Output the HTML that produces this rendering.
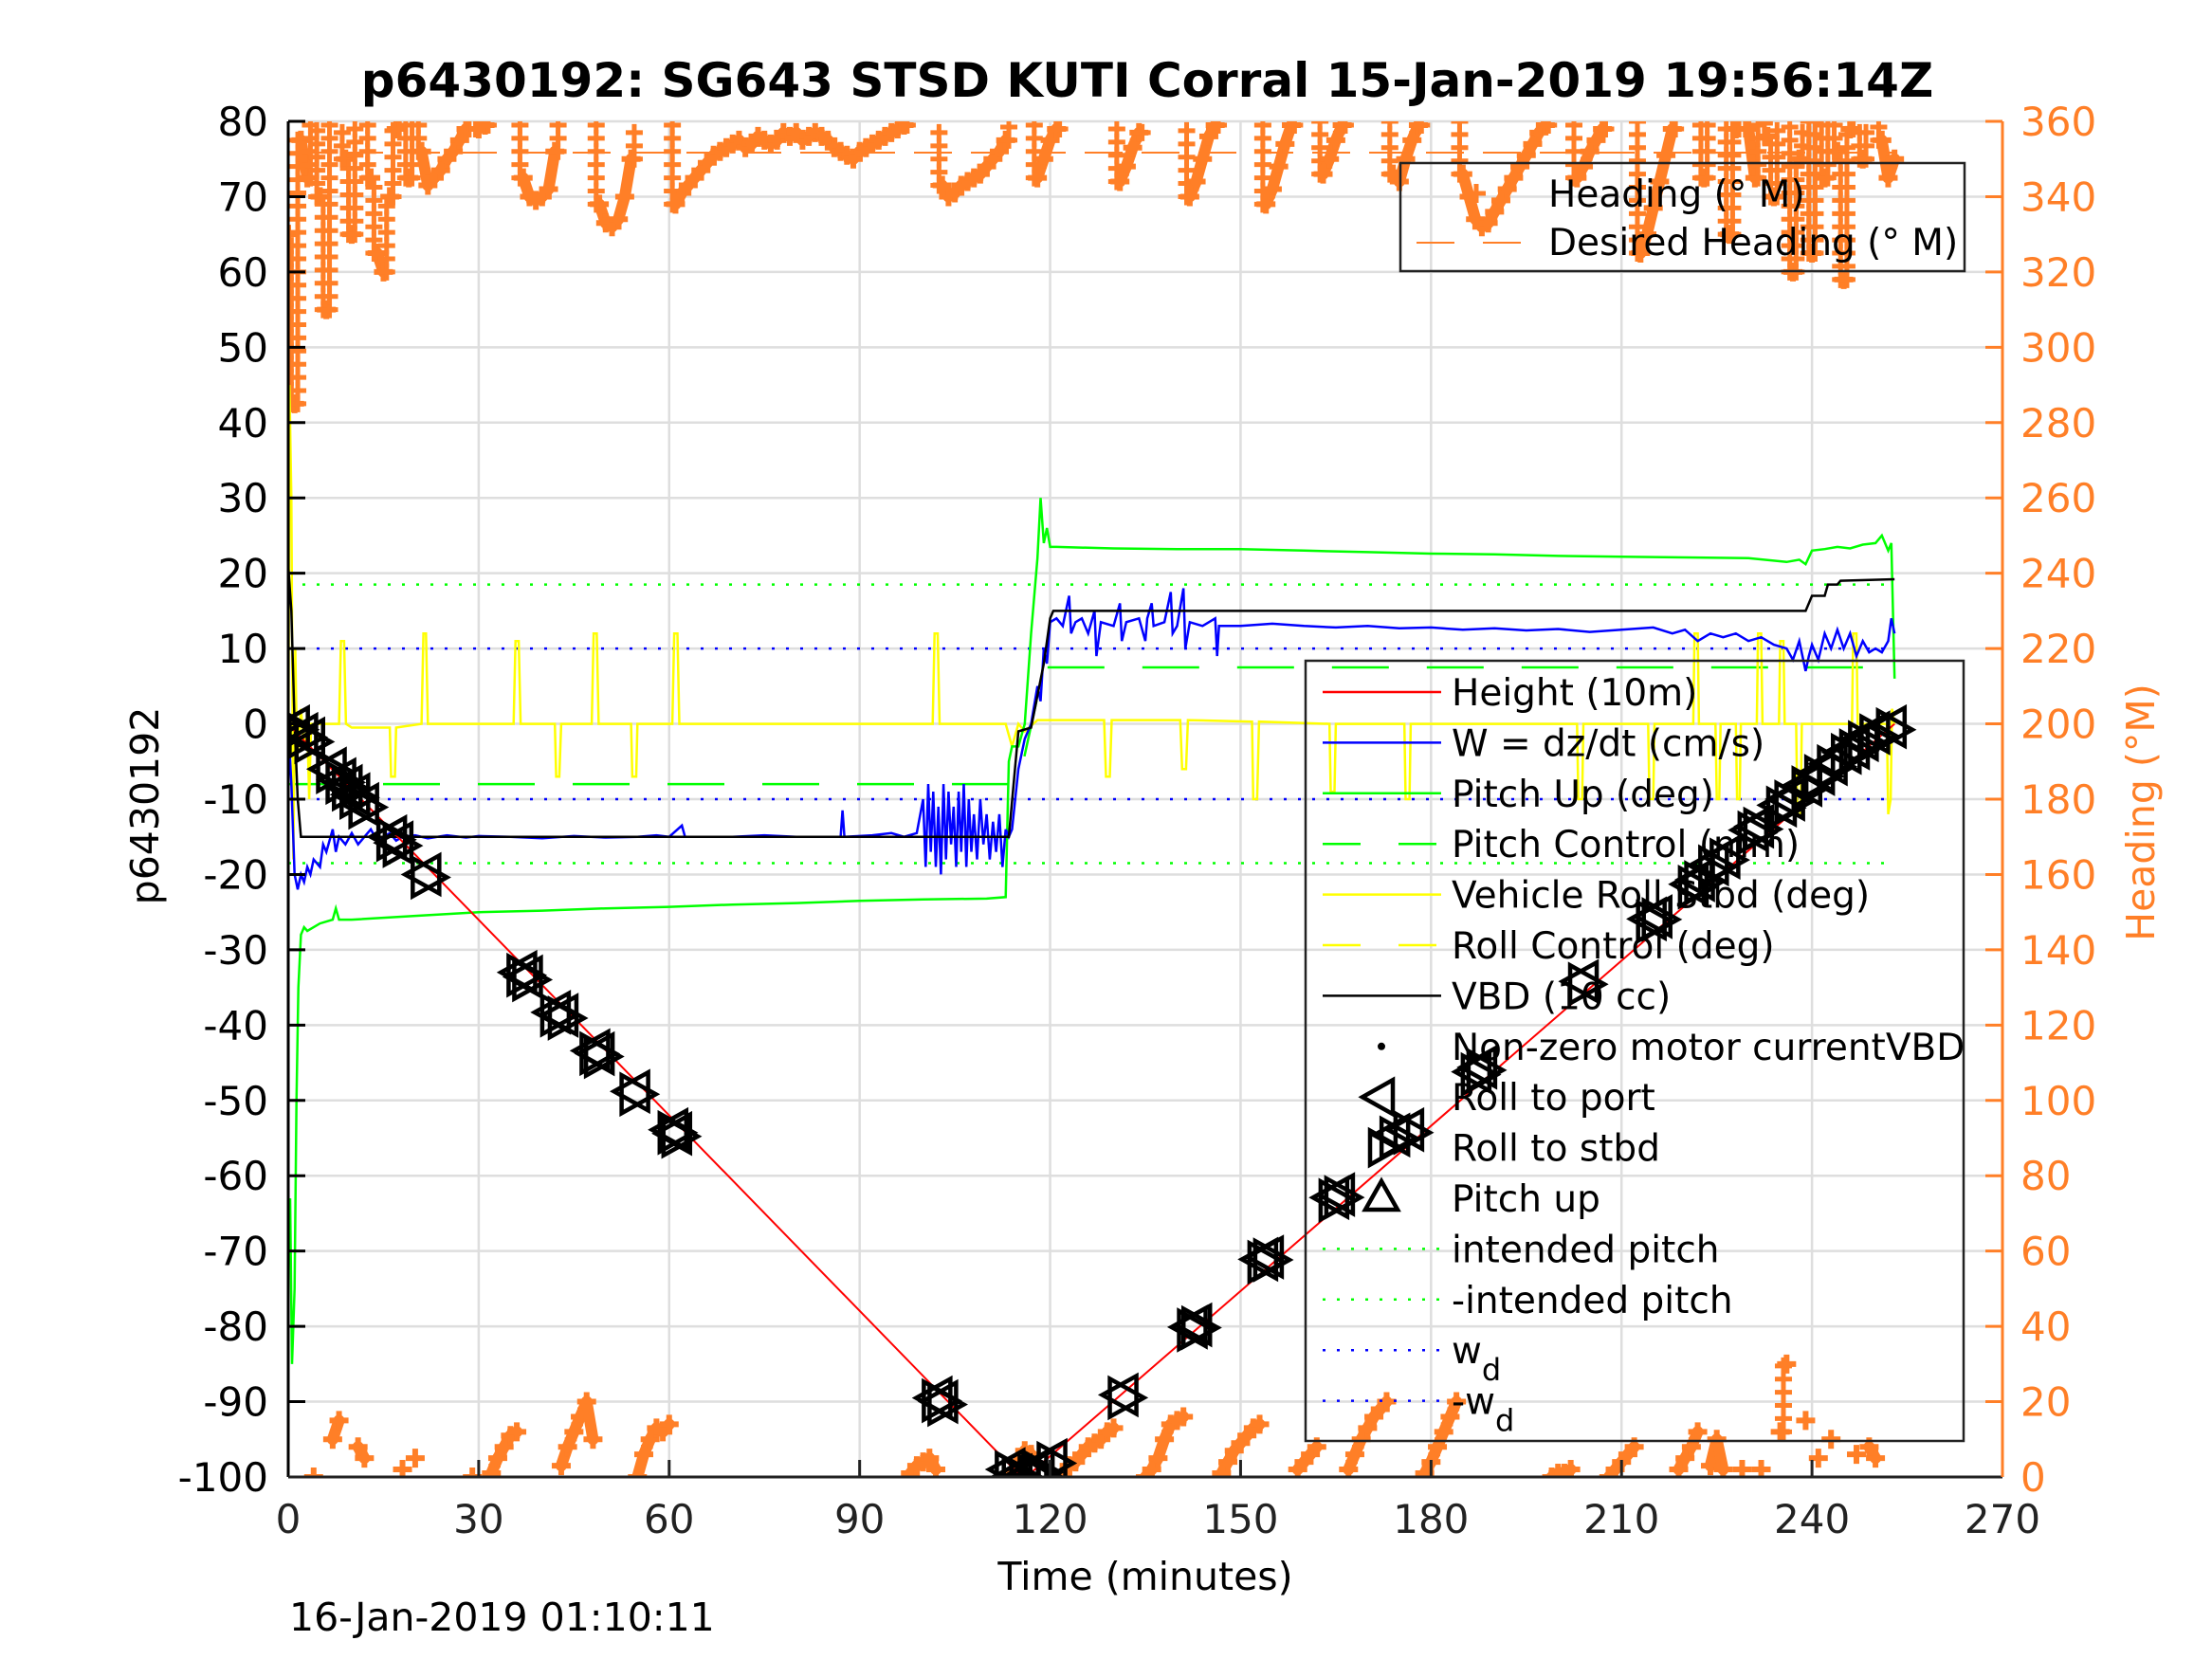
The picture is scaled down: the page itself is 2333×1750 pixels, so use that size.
<!DOCTYPE html>
<html><head><meta charset="utf-8"><style>
html,body{margin:0;padding:0;background:#fff;}
svg{display:block;font-family:"DejaVu Sans","Liberation Sans",sans-serif;}
</style></head><body>
<svg id="chart" width="2333" height="1750" viewBox="0 0 2333 1750" xmlns="http://www.w3.org/2000/svg">
<defs><clipPath id="pc"><rect x="304" y="128" width="1808" height="1430"/></clipPath></defs>
<rect width="2333" height="1750" fill="#fff"/>
<g id="grid"></g>
<g id="plot" clip-path="url(#pc)"></g>
<g id="axes"></g>
<text x="1210" y="102" text-anchor="middle" font-size="50" font-weight="bold">p6430192: SG643 STSD KUTI Corral 15-Jan-2019 19:56:14Z</text>
<text x="1208" y="1677" text-anchor="middle" font-size="41">Time (minutes)</text>
<text x="305" y="1720" font-size="41">16-Jan-2019 01:10:11</text>
<text transform="translate(167,850) rotate(-90)" text-anchor="middle" font-size="41">p6430192</text>
<text transform="translate(2272,857) rotate(-90)" text-anchor="middle" font-size="41" fill="#ff7f27">Heading (°M)</text>
<g id="legends"></g>
</svg>
<script>
// ---------- data ----------
const xTicks = [0,30,60,90,120,150,180,210,240,270];
const yTicksLeft = [80,70,60,50,40,30,20,10,0,-10,-20,-30,-40,-50,-60,-70,-80,-90,-100];
const yTicksRight = [360,340,320,300,280,260,240,220,200,180,160,140,120,100,80,60,40,20,0];
const heightPts = [[0,0],[0.5,-0.5],[115.5,-100],[116.5,-99.8],[253,0]];
const vbdPts = [[0,21],[0.5,15],[1,0],[1.5,-10],[2,-15],[113.5,-15],[115,-1],[117,-0.5],[119,8],[120,14],[120.5,15],[239,15],[239.5,16],[240,17],[242,17],[242.5,18.5],[244,18.5],[244.5,19],[253,19.2]];
const wPts = [[0,0],[0.5,-8],[1,-20],[1.5,-22],[2,-20],[2.5,-21],[3,-19],[3.5,-20],[4,-18],[5,-19],[5.5,-16],[6,-17],[7,-14],[7.5,-17],[8,-15],[9,-16],[10,-14.5],[11,-16],[12,-15],[13,-14],[14,-15.5],[15,-15],[16,-14.5],[17,-15.5],[18,-15],[20,-14.8],[22,-15.2],[25,-14.8],[28,-15.1],[30,-14.9],[35,-15],[40,-15.2],[45,-14.9],[50,-15.1],[55,-15],[58,-14.8],[60,-15],[62,-13.5],[62.5,-15],[70,-15],[75,-14.8],[80,-15],[85,-15],[87,-15],[87.3,-11.5],[87.6,-15],[92,-14.8],[95,-14.5],[97,-15],[99,-14.5],[100,-10],[100.4,-19],[100.8,-8],[101.2,-17],[101.6,-9],[102,-19],[102.4,-11],[102.8,-20],[103.2,-8],[103.6,-18],[104,-9],[104.4,-16],[104.8,-11],[105.2,-19],[105.6,-9],[106,-17],[106.4,-8],[106.8,-19],[107.2,-10],[107.6,-17],[108,-12],[108.5,-18],[109,-10],[109.5,-16],[110,-12],[110.5,-18],[111,-13],[111.5,-17],[112,-12],[112.5,-19],[113,-14],[113.5,-15],[114,-14],[115,-6],[116,-2],[117,0],[118,5],[118.5,3],[119,10],[119.5,8],[120,13.5],[121,14],[122,13],[123,17],[123.3,12],[124,13.5],[125,14],[126,12],[127,15],[127.3,9],[128,13.5],[130,13],[131,16],[131.3,11],[132,13.5],[134,14],[135,11],[135.3,14],[136,16],[136.3,13],[138,13.5],[139,17.5],[139.3,12],[140,13],[141,18],[141.3,10],[142,13.5],[144,13],[146,14],[146.3,9],[146.6,13],[150,13],[155,13.3],[160,13],[165,12.8],[170,13],[175,12.7],[180,12.8],[185,12.5],[190,12.7],[195,12.4],[200,12.6],[205,12.2],[210,12.5],[215,12.8],[218,12],[220,12.5],[222,11],[224,12],[226,11.5],[228,12],[230,11],[232,11.5],[234,10.5],[236,10],[237,8.5],[238,11],[239,7],[239.5,9],[240,10.5],[241,8.5],[242,12],[243,10],[244,12.5],[245,10],[246,12],[247,9],[248,11],[249,9.5],[250,10],[251,9.5],[252,11],[252.5,14],[253,12]];
const pitchPts = [[0,-70],[0.3,-63],[0.6,-85],[1,-75],[1.3,-50],[1.6,-35],[2,-28],[2.5,-27],[3,-27.5],[5,-26.5],[7,-26],[7.5,-24.5],[8,-26],[10,-26],[20,-25.5],[30,-25],[40,-24.8],[50,-24.5],[60,-24.3],[70,-24],[80,-23.8],[90,-23.5],[100,-23.3],[110,-23.2],[113,-23],[113.5,-5],[114,-3],[115,-3],[116,0],[117,12],[118,22],[118.5,30],[119,24],[119.5,26],[120,23.5],[121,23.5],[130,23.3],[140,23.2],[150,23.2],[160,23],[170,22.8],[180,22.6],[190,22.5],[200,22.3],[210,22.2],[220,22.1],[230,22],[236,21.5],[238,21.8],[239,21.2],[240,23],[242,23.2],[244,23.5],[246,23.3],[248,23.8],[250,24],[251,25],[252,23],[252.5,24],[253,6]];
const pitchCtrlPts = [[0,-8],[115,-8],[119,7.5],[253,7.5]];
const rollPts = [[0,-15],[0.2,45],[0.5,30],[0.8,-18],[1.1,10],[1.4,-5],[2,2],[2.5,-3],[3,0],[3.3,-10],[3.6,0],[5,0],[8,0],[8.3,11],[8.8,11],[9.1,0],[10,-0.5],[16,-0.5],[16.2,-7],[16.8,-7],[17,-0.5],[21,0],[21.3,12],[21.7,12],[22,0],[35.5,0],[35.8,11],[36.3,11],[36.6,0],[42,0],[42.2,-7],[42.7,-7],[43,0],[47.8,0],[48.1,12],[48.6,12],[48.9,0],[54,0],[54.2,-7],[54.8,-7],[55,0],[60.5,0],[60.8,12],[61.3,12],[61.6,0],[101.5,0],[101.8,12],[102.3,12],[102.6,0],[113,0],[114,-3],[115,0],[116,-1],[118,0.5],[128.5,0.5],[128.8,-7],[129.4,-7],[129.7,0.5],[140.5,0.5],[140.8,-6],[141.4,-6],[141.7,0.5],[151.8,0.3],[152,-10],[152.6,-10],[152.9,0.3],[164,0],[164.2,-9],[164.8,-9],[165,0],[175.8,0],[176,-10],[176.6,-10],[176.8,0],[203,0],[203.2,-10],[203.8,-10],[204,0],[214.2,0],[214.4,-10],[215,-10],[215.2,0],[221.3,0],[221.5,12],[222,12],[222.2,0],[224.8,0],[225,-10],[225.4,-10],[225.6,0],[228,0],[228.2,-10],[228.6,-10],[228.8,0],[231.3,0],[231.5,12],[232,12],[232.2,0],[234.8,0],[235,11],[235.5,11],[235.7,0],[237.5,0],[237.7,-12],[238.2,-12],[238.4,0],[246.3,0],[246.5,12],[247,12],[247.2,0],[251.8,0],[252,-12],[252.4,-10],[252.6,2],[253,0]];
const markerTimes = [0.7,2,3.1,6.5,8,9,10.2,11.6,16,17,21.4,36.5,37.4,41.8,43,48,48.7,54.3,60.3,60.9,101.9,102.8,113.4,114.5,115.7,117,118,120,131.2,142.1,142.8,153.2,154.1,164.4,165.3,174,176.2,186.8,187.7,203.7,214.4,215.3,221,222,224.2,226,230.4,231.3,234.9,236.2,238.9,240.9,242.9,245.1,246.4,247.8,249.6,252.2];
const markerDepths = [-0.4,-1.4,-2,-6,-7.4,-8.3,-9.4,-10.7,-15,-15.8,-20,-33,-33.6,-38.3,-38.7,-43.4,-43.8,-48.8,-53.9,-54.4,-89.5,-90,-99,-99.8,-100,-99.4,-99,-97.8,-89.1,-80.1,-79.8,-71.1,-70.8,-62.9,-62.5,-54.6,-53.9,-46.2,-45.6,-34.2,-25.9,-25.6,-21.3,-20.7,-18.6,-17.7,-14.1,-13.6,-10.8,-10,-8.1,-6.6,-5.3,-3.8,-3.2,-2.1,-1.2,-0.4];
// heading per minute (t = index), values above 360 wrap to the bottom
const headingVals = [330,285,355,345,360,340,310,370,375,350,
330,368,365,345,325,320,340,358,362,345,
365,352,343,345,347,350,352,355,358,360,
358,359,361,365,368,371,372,345,340,339,
340,342,352,363,368,372,376,380,370,338,
333,332,334,340,350,360,366,370,373,372,
374,338,341,343,345,347,349,351,352,353,
354,355,353,354,356,355,354,355,357,356,
357,355,356,357,356,355,353,352,351,350,
352,353,354,355,356,357,358,359,361,363,
364,365,362,343,340,341,343,344,345,346,
348,350,352,355,361,364,367,366,345,350,
355,358,361,363,364,366,368,369,370,372,
373,344,348,353,357,360,362,365,370,374,
375,376,340,344,350,356,359,361,364,367,
369,371,373,374,338,342,348,354,359,362,
364,366,368,346,350,355,359,362,366,370,
373,376,378,380,346,344,350,355,359,361,
364,368,372,376,380,346,340,334,332,333,
336,339,342,345,348,351,354,357,359,360,
361,361,362,345,348,352,355,358,360,362,
364,366,368,325,330,337,344,351,358,362,
365,368,372,345,363,370,362,330,358,362,
358,345,362,356,340,372,390,320,350,375,
325,365,345,370,352,318,358,366,350,368,
365,355,345,350];
const desiredHeading = 351.7;
const intendedPitch = 18.5;
const wd = 10;
const tEnd = 253;

// ---------- axes ----------
const X0=304,X1=2112,Y0=128,Y1=1558;
const X = t => X0 + (t-0)*(X1-X0)/270;
const YL = v => Y0 + (80-v)*(Y1-Y0)/180;
const YR = h => Y0 + (360-h)*(Y1-Y0)/360;
const NS="http://www.w3.org/2000/svg";
const OR="#ff7f27";
function mk(tag, attrs, parent){const e=document.createElementNS(NS,tag);for(const k in attrs)e.setAttribute(k,attrs[k]);parent.appendChild(e);return e;}
const grid=document.getElementById('grid'), plot=document.getElementById('plot'), axes=document.getElementById('axes'), leg=document.getElementById('legends');

xTicks.forEach(t=>{
  const g=mk('line',{x1:X(t),x2:X(t),y1:Y0,y2:Y1,stroke:'#dedede','stroke-width':2.5},grid);
  
  
  const tk=mk('line',{x1:X(t),x2:X(t),y1:Y1,y2:Y1-18,stroke:'#222','stroke-width':3},axes);
  
  
  const lb=mk('text',{x:X(t),y:1617,'text-anchor':'middle','font-size':42,fill:'#222'},axes);
  lb.textContent=t;
  
  
});
yTicksLeft.forEach(v=>{
  const g=mk('line',{x1:X0,x2:X1,y1:YL(v),y2:YL(v),stroke:'#dedede','stroke-width':2.5},grid);
  
  
  const tk=mk('line',{x1:X0,x2:X0+18,y1:YL(v),y2:YL(v),stroke:'#000','stroke-width':3},axes);
  
  
  const lb=mk('text',{x:283,y:YL(v)+15,'text-anchor':'end','font-size':42,fill:'#000'},axes);
  lb.textContent=v;
  
  
});
yTicksRight.forEach(h=>{
  const tk=mk('line',{x1:X1,x2:X1-18,y1:YR(h),y2:YR(h),stroke:OR,'stroke-width':3},axes);
  
  
  const lb=mk('text',{x:2131,y:YR(h)+15,'font-size':42,fill:OR},axes);
  lb.textContent=h;
  
  
});
const ax1=mk('line',{x1:X0,x2:X0,y1:Y0,y2:Y1,stroke:'#000','stroke-width':3},axes);


const ax2=mk('line',{x1:X0,x2:X1,y1:Y1,y2:Y1,stroke:'#222','stroke-width':3},axes);


const ax3=mk('line',{x1:X1,x2:X1,y1:Y0,y2:Y1,stroke:OR,'stroke-width':3},axes);



function poly(pts, fx, fy, attrs, name){
  const d=pts.map(p=>fx(p[0]).toFixed(1)+','+fy(p[1]).toFixed(1)).join(' ');
  const e=mk('polyline',Object.assign({points:d,fill:'none'},attrs),plot);
  
  
  return e;
}

// reference lines
poly([[0,intendedPitch],[tEnd,intendedPitch]],X,YL,{stroke:'#00ff00','stroke-width':2.5,'stroke-dasharray':'3,12'},'intended-pitch-line');
poly([[0,-intendedPitch],[tEnd,-intendedPitch]],X,YL,{stroke:'#00ff00','stroke-width':2.5,'stroke-dasharray':'3,12'},'neg-intended-pitch-line');
poly([[0,wd],[tEnd,wd]],X,YL,{stroke:'#0000ff','stroke-width':2.5,'stroke-dasharray':'3,12'},'wd-line');
poly([[0,-wd],[tEnd,-wd]],X,YL,{stroke:'#0000ff','stroke-width':2.5,'stroke-dasharray':'3,12'},'neg-wd-line');
poly([[0,desiredHeading],[tEnd,desiredHeading]],X,YR,{stroke:OR,'stroke-width':2,'stroke-dasharray':'40,20'},'desired-heading-line');

// heading scatter
const hg=mk('g',{},plot);


const wrap=h=>((h%360)+360)%360;
for(let i=0;i<headingVals.length;i++){
  const h=headingVals[i];
  if(i>0){const p=headingVals[i-1];
    if(Math.floor(p/360)===Math.floor(h/360)&&Math.abs(h-p)<=14){
      const s=mk('line',{x1:X(i-1),y1:YR(wrap(p)),x2:X(i),y2:YR(wrap(h)),stroke:OR,'stroke-width':12,'stroke-linecap':'round'},hg);
      
      
    } else {
      const a=wrap(p),b=wrap(h);
      const lo=Math.min(a,b),hi=Math.max(a,b);
      const st=lo>180||hi<180?[lo,hi]:[hi,360];
      for(let v=st[0];v<=st[1];v+=3.5){
        const m=mk('path',{d:`M${X(i-0.5)-9},${YR(v)}h18M${X(i-0.5)},${YR(v)-9}v18`,stroke:OR,'stroke-width':5},hg);
        
        
      }
    }
  }
  const m=mk('path',{d:`M${X(i)-10},${YR(wrap(h))}h20M${X(i)},${YR(wrap(h))-10}v20`,stroke:OR,'stroke-width':6},hg);
  
  
}

// series lines
poly(pitchCtrlPts,X,YL,{stroke:'#00ff00','stroke-width':2.5,'stroke-dasharray':'60,40'},'pitch-control-line');
poly(rollPts,X,YL,{stroke:'#ffff00','stroke-width':2.5},'vehicle-roll-line');
poly(pitchPts,X,YL,{stroke:'#00ff00','stroke-width':2.5},'pitch-up-line');
poly(wPts,X,YL,{stroke:'#0000ff','stroke-width':2.5},'w-dzdt-line');
poly(vbdPts,X,YL,{stroke:'#000','stroke-width':2.5},'vbd-line');
poly(heightPts,X,YL,{stroke:'#ff0000','stroke-width':2},'height-line');

// roll markers
const mg=mk('g',{},plot);


for(let i=0;i<markerTimes.length;i++){
  const cx=X(markerTimes[i]), cy=YL(markerDepths[i]), s=20;
  const l=mk('path',{d:`M${cx-s},${cy}L${cx+s*0.8},${cy-s}L${cx+s*0.8},${cy+s}Z`,fill:'none',stroke:'#000','stroke-width':4.5},mg);
  
  
  const r=mk('path',{d:`M${cx+s*1.2},${cy+3}L${cx-s*0.6},${cy-s+3}L${cx-s*0.6},${cy+s+3}Z`,fill:'none',stroke:'#000','stroke-width':4.5},mg);
  
  
}

// ---------- legends ----------
function box(x,y,w,h,name){const b=mk('rect',{x:x,y:y,width:w,height:h,fill:'none',stroke:'#222','stroke-width':2.5},leg);}
function ltext(x,y,t,name){const e=mk('text',{x:x,y:y,'font-size':39,fill:'#000'},leg);e.textContent=t;return e;}
box(1477,172,595,114,'heading-legend');
const hp=mk('path',{d:'M1547,204h20M1557,194v20',stroke:OR,'stroke-width':5},leg);


ltext(1633,218,'Heading (° M)','legend-heading');
const dp=mk('line',{x1:1494,x2:1604,y1:256,y2:256,stroke:OR,'stroke-width':2,'stroke-dasharray':'40,30'},leg);


ltext(1633,269,'Desired Heading (° M)','legend-desired-heading');

box(1377,697,694,823,'series-legend');
const entries=[
 ['line','#ff0000','','Height (10m)'],
 ['line','#0000ff','','W = dz/dt (cm/s)'],
 ['line','#00ff00','','Pitch Up (deg)'],
 ['line','#00ff00','40,40','Pitch Control (mm)'],
 ['line','#ffff00','','Vehicle Roll Stbd (deg)'],
 ['line','#ffff00','40,40','Roll Control (deg)'],
 ['line','#000','','VBD (10 cc)'],
 ['dot','#000','','Non-zero motor currentVBD'],
 ['lt','#000','','Roll to port'],
 ['rt','#000','','Roll to stbd'],
 ['ut','#000','','Pitch up'],
 ['line','#00ff00','3,12','intended pitch'],
 ['line','#00ff00','3,12','-intended pitch'],
 ['line','#0000ff','3,12','w'],
 ['line','#0000ff','3,12','-w']
];
entries.forEach((e,i)=>{
  const y=730+i*53.4, cx=1457;
  let s;
  if(e[0]==='line') s=mk('line',{x1:1395,x2:1520,y1:y,y2:y,stroke:e[1],'stroke-width':2.5,'stroke-dasharray':e[2]||'none'},leg);
  else if(e[0]==='dot') s=mk('circle',{cx:cx,cy:y,r:4,fill:'#000'},leg);
  else if(e[0]==='lt') s=mk('path',{d:`M${cx-20},${y}L${cx+12},${y-18}L${cx+12},${y+18}Z`,fill:'none',stroke:'#000','stroke-width':4.5},leg);
  else if(e[0]==='rt') s=mk('path',{d:`M${cx+20},${y}L${cx-12},${y-18}L${cx-12},${y+18}Z`,fill:'none',stroke:'#000','stroke-width':4.5},leg);
  else s=mk('path',{d:`M${cx},${y-18}L${cx-17},${y+12}L${cx+17},${y+12}Z`,fill:'none',stroke:'#000','stroke-width':4.5},leg);
  
  
  const t=ltext(1531,y+14,e[3],'legend-entry');
  if(i>=13){const sub=document.createElementNS(NS,'tspan');sub.setAttribute('dy','18');sub.setAttribute('font-size','32');sub.textContent='d';t.appendChild(sub);}
});
</script>
</body></html>
